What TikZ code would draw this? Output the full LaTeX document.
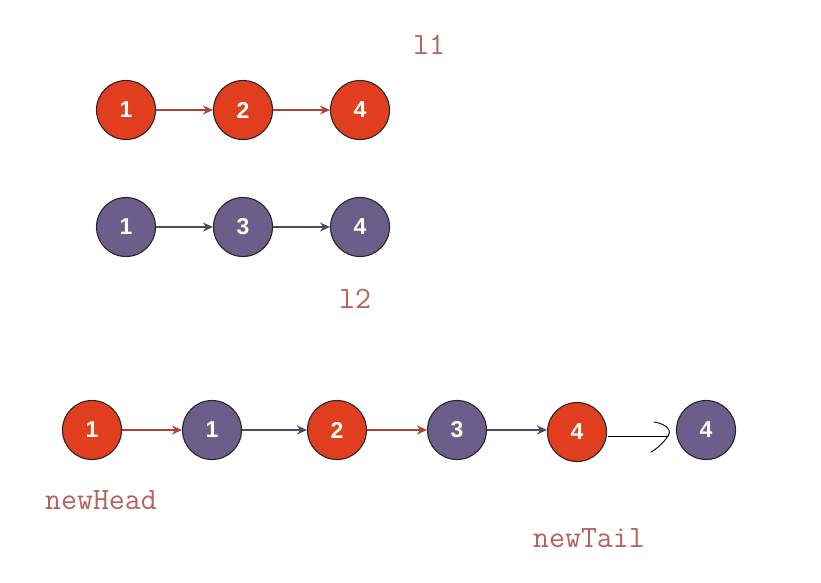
\documentclass[tikz,border=0pt]{standalone}
\usepackage{fontspec}
\setmainfont{Liberation Sans}
\usetikzlibrary{arrows.meta}
\definecolor{nodered}{HTML}{E03E1E}
\definecolor{nodepurple}{HTML}{6B5E8A}
\definecolor{arrowred}{HTML}{B04238}
\definecolor{arrowgrey}{HTML}{4A4B5C}
\definecolor{labelred}{HTML}{B5625A}
\tikzset{
  lnode/.style={circle, draw=black!85, line width=1.1pt, minimum size=59pt, inner sep=0pt,
    text=white!95!yellow, font=\bfseries\fontsize{23}{23}\selectfont},
  rnode/.style={lnode, fill=nodered},
  pnode/.style={lnode, fill=nodepurple},
  redlink/.style={draw=arrowred, line width=1.4pt, -{Stealth[length=10pt,width=9pt]}},
  greylink/.style={draw=arrowgrey, line width=1.4pt, -{Stealth[length=10pt,width=9pt]}},
  tag/.style={text=labelred, font=\ttfamily\fontsize{31}{31}\selectfont},
  handline/.style={draw=black, line width=0.9pt, line cap=round}
}
\begin{document}
\begin{tikzpicture}[x=1pt,y=-1pt]
\useasboundingbox (0,0) rectangle (821,582);
% list l1
\node[rnode] (a1) at (126,110) {1};
\node[rnode] (a2) at (243,110) {2};
\node[rnode] (a3) at (360,110) {4};
\draw[redlink] (a1) -- (a2);
\draw[redlink] (a2) -- (a3);
\node[tag] (l1) at (429,45) {l1};
% list l2
\node[pnode] (b1) at (126,227) {1};
\node[pnode] (b2) at (243,227) {3};
\node[pnode] (b3) at (360,227) {4};
\draw[greylink] (b1) -- (b2);
\draw[greylink] (b2) -- (b3);
\node[tag] (l2) at (355,299) {l2};
% merged list
\node[rnode] (c1) at (92,430) {1};
\node[pnode] (c2) at (212,430) {1};
\node[rnode] (c3) at (337,430) {2};
\node[pnode] (c4) at (457,430) {3};
\node[rnode] (c5) at (577,432) {4};
\node[pnode] (c6) at (706,430) {4};
\draw[redlink] (c1) -- (c2);
\draw[greylink] (c2) -- (c3);
\draw[redlink] (c3) -- (c4);
\draw[greylink] (c4.east) -- (c4.east -| c5.west);
% hand-drawn arrow
\coordinate (tip) at (668,436);
\draw[handline] (c5.east) ++(1,4) -- (tip);
\draw[handline] (654,422) .. controls (668,424) and (672,432) .. (tip)
  .. controls (664,442) and (658,448) .. (651,452);
\node[tag] (nh) at (101,500) {newHead};
\node[tag] (nt) at (589,538) {newTail};
\end{tikzpicture}
\end{document}
